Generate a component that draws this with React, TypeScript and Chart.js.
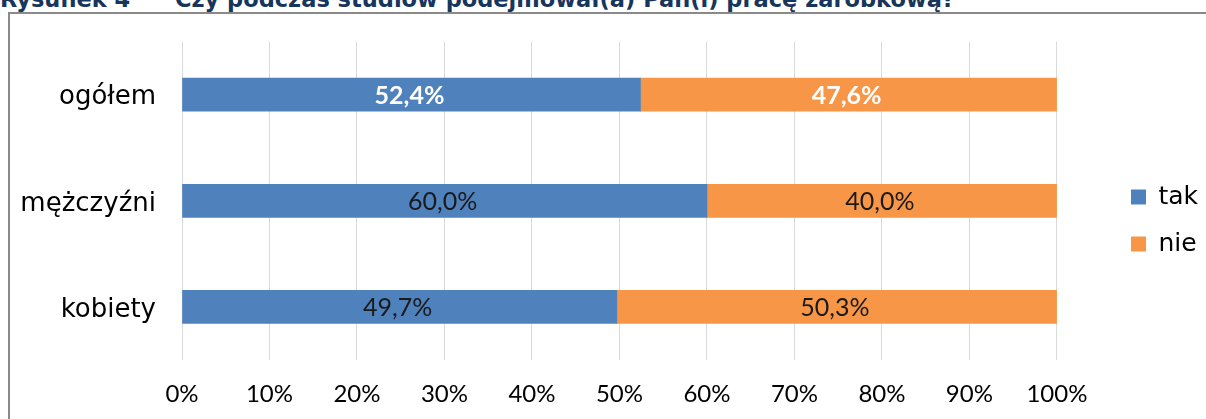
import { useEffect, useRef } from 'react';
import { Chart, registerables } from 'chart.js';

Chart.register(...registerables);

const categories = ['ogółem', 'mężczyźni', 'kobiety'];
const seriesNames = ['tak', 'nie'];
const takValues = [52.4, 60.0, 49.7];
const nieValues = [47.6, 40.0, 50.3];
const tickValues = [0, 10, 20, 30, 40, 50, 60, 70, 80, 90, 100];
const titleNumber = 'Rysunek 4';
const titleText = 'Czy podczas studiów podejmował(a) Pan(i) pracę zarobkową?';

const BLUE = '#4F81BD';
const ORANGE = '#F79646';
const NUM_FONT = 'Lato';
const TEXT_FONT = '"DejaVu Sans"';

const fmt = (v: number) => v.toFixed(1).replace('.', ',') + '%';

const barLabels = {
  id: 'barLabels',
  afterDatasetsDraw(chart: any) {
    const ctx = chart.ctx;
    chart.data.datasets.forEach((ds: any, di: number) => {
      const meta = chart.getDatasetMeta(di);
      meta.data.forEach((bar: any, i: number) => {
        const v = ds.data[i] as number;
        const { x, y, base } = bar.getProps(['x', 'y', 'base'], true);
        const bold = i === 0;
        ctx.save();
        ctx.font = `${bold ? 'bold ' : ''}25px ${NUM_FONT}`;
        ctx.fillStyle = bold ? '#ffffff' : '#1a1a1a';
        ctx.textAlign = 'center';
        ctx.textBaseline = 'middle';
        ctx.fillText(fmt(v), (x + base) / 2 - 2, y + 1);
        ctx.restore();
      });
    });
  },
};

const legendShift = {
  id: 'legendShift',
  afterLayout(chart: any) {
    const l = chart.legend;
    if (!l) return;
    const dx = 1109 - l.left;
    l.left += dx;
    l.right += dx;
    l.top -= 9;
    l.bottom -= 9;
  },
};

export default function App() {
  const ref = useRef<HTMLCanvasElement | null>(null);

  useEffect(() => {
    if (!ref.current) return;
    const chart = new Chart(ref.current, {
      type: 'bar',
      data: {
        labels: categories,
        datasets: [
          { label: seriesNames[0], data: takValues, backgroundColor: BLUE, borderWidth: 0 },
          { label: seriesNames[1], data: nieValues, backgroundColor: ORANGE, borderWidth: 0 },
        ],
      },
      options: {
        indexAxis: 'y',
        animation: false,
        responsive: false,
        maintainAspectRatio: false,
        layout: { padding: { left: 0, top: 40, bottom: 0, right: 50 } },
        datasets: { bar: { barThickness: 33 } } as any,
        scales: {
          x: {
            stacked: true,
            min: 0,
            max: 100,
            afterBuildTicks: (scale: any) => {
              scale.ticks = tickValues.map((v) => ({ value: v }));
            },
            afterFit: (scale: any) => {
              scale.height = 59;
            },
            ticks: {
              callback: (v: any) => v + '%',
              color: '#000',
              padding: 20,
              font: { family: NUM_FONT, size: 24 },
              maxRotation: 0,
            },
            grid: { color: '#D9D9D9', lineWidth: 1, drawTicks: false },
            border: { display: false },
          },
          y: {
            stacked: true,
            afterFit: (scale: any) => {
              scale.width = 182;
            },
            ticks: {
              color: '#000',
              padding: 26,
              labelOffset: 3,
              font: { family: TEXT_FONT, size: 26 },
            },
            grid: { display: false, drawTicks: false },
            border: { display: false },
          },
        },
        plugins: {
          legend: {
            position: 'right',
            labels: {
              boxWidth: 15,
              boxHeight: 15,
              padding: 22,
              color: '#000',
              font: { family: TEXT_FONT, size: 25 },
            },
          },
          tooltip: { enabled: false },
          title: { display: false },
        },
      },
      plugins: [barLabels, legendShift],
    });
    return () => chart.destroy();
  }, []);

  return (
    <div style={{ position: 'absolute', left: 0, top: 0, width: 1206, height: 419, overflow: 'hidden', background: '#fff' }}>
      <div
        style={{
          position: 'absolute',
          left: 8,
          top: 12,
          width: 1300,
          height: 500,
          borderLeft: '2px solid #8a8a8a',
          borderTop: '2px solid #8a8a8a',
        }}
      />
      <div
        style={{
          position: 'absolute',
          left: 0,
          top: -11,
          whiteSpace: 'nowrap',
          fontFamily: TEXT_FONT,
          fontWeight: 'bold',
          fontSize: 22.5,
          lineHeight: '20px',
          color: '#17365D',
        }}
      >
        <span>{titleNumber}</span>
        <span style={{ position: 'absolute', left: 175 }}>{titleText}</span>
      </div>
      <canvas ref={ref} width={1206} height={419} style={{ position: 'absolute', left: 0, top: 0 }} />
    </div>
  );
}
